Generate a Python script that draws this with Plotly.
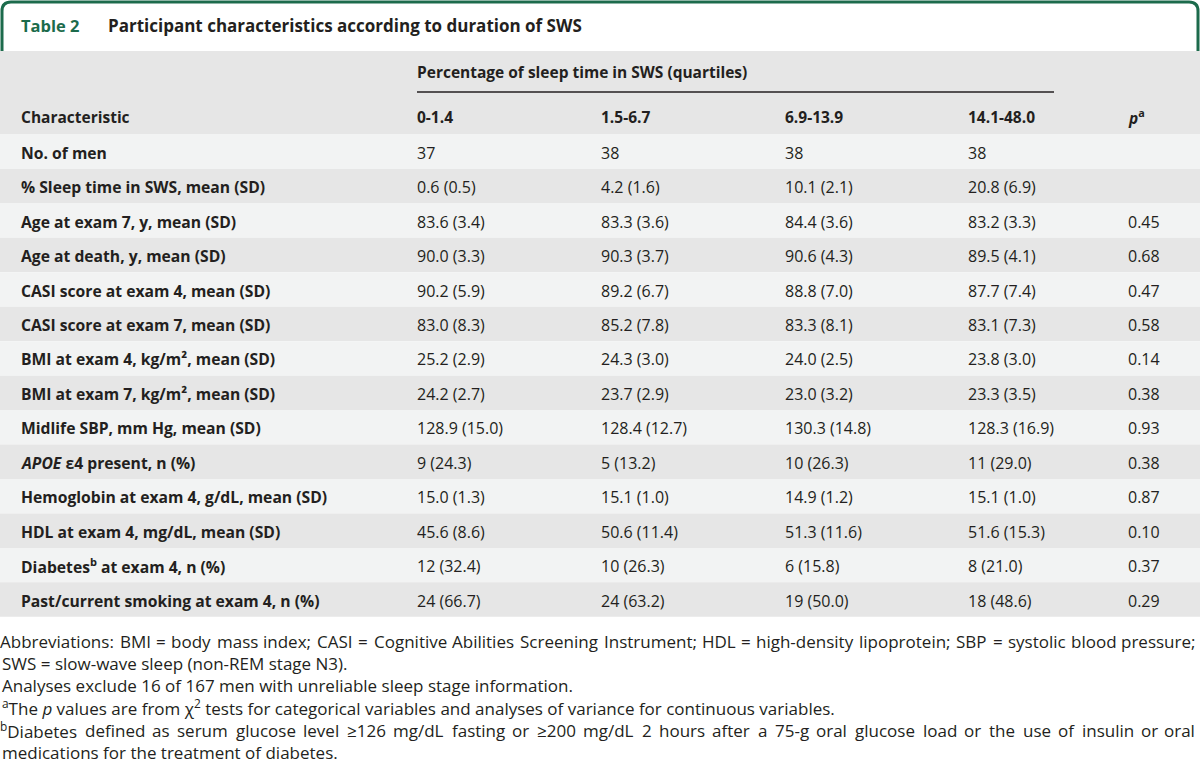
import re
import plotly.graph_objects as go

# ---------------- data ----------------
title_label = "Table 2"
title_text = "Participant characteristics according to duration of SWS"
group_header = "Percentage of sleep time in SWS (quartiles)"
col_headers = ["Characteristic", "0-1.4", "1.5-6.7", "6.9-13.9", "14.1-48.0", "<i>p</i><sup>a</sup>"]

characteristics = [
    "No. of men",
    "% Sleep time in SWS, mean (SD)",
    "Age at exam 7, y, mean (SD)",
    "Age at death, y, mean (SD)",
    "CASI score at exam 4, mean (SD)",
    "CASI score at exam 7, mean (SD)",
    "BMI at exam 4, kg/m², mean (SD)",
    "BMI at exam 7, kg/m², mean (SD)",
    "Midlife SBP, mm Hg, mean (SD)",
    "<i>APOE</i> ε4 present, n (%)",
    "Hemoglobin at exam 4, g/dL, mean (SD)",
    "HDL at exam 4, mg/dL, mean (SD)",
    "Diabetes<sup>b</sup> at exam 4, n (%)",
    "Past/current smoking at exam 4, n (%)",
]
q1_values = ["37", "0.6 (0.5)", "83.6 (3.4)", "90.0 (3.3)", "90.2 (5.9)", "83.0 (8.3)", "25.2 (2.9)",
             "24.2 (2.7)", "128.9 (15.0)", "9 (24.3)", "15.0 (1.3)", "45.6 (8.6)", "12 (32.4)", "24 (66.7)"]
q2_values = ["38", "4.2 (1.6)", "83.3 (3.6)", "90.3 (3.7)", "89.2 (6.7)", "85.2 (7.8)", "24.3 (3.0)",
             "23.7 (2.9)", "128.4 (12.7)", "5 (13.2)", "15.1 (1.0)", "50.6 (11.4)", "10 (26.3)", "24 (63.2)"]
q3_values = ["38", "10.1 (2.1)", "84.4 (3.6)", "90.6 (4.3)", "88.8 (7.0)", "83.3 (8.1)", "24.0 (2.5)",
             "23.0 (3.2)", "130.3 (14.8)", "10 (26.3)", "14.9 (1.2)", "51.3 (11.6)", "6 (15.8)", "19 (50.0)"]
q4_values = ["38", "20.8 (6.9)", "83.2 (3.3)", "89.5 (4.1)", "87.7 (7.4)", "83.1 (7.3)", "23.8 (3.0)",
             "23.3 (3.5)", "128.3 (16.9)", "11 (29.0)", "15.1 (1.0)", "51.6 (15.3)", "8 (21.0)", "18 (48.6)"]
p_values = ["", "", "0.45", "0.68", "0.47", "0.58", "0.14", "0.38", "0.93", "0.38", "0.87", "0.10", "0.37", "0.29"]

footnotes = [
    "Abbreviations: BMI = body mass index; CASI = Cognitive Abilities Screening Instrument; HDL = high-density lipoprotein; SBP = systolic blood pressure;",
    "SWS = slow-wave sleep (non-REM stage N3).",
    "Analyses exclude 16 of 167 men with unreliable sleep stage information.",
    "<sup>a</sup>The <i>p</i> values are from χ<sup>2</sup> tests for categorical variables and analyses of variance for continuous variables.",
    "<sup>b</sup>Diabetes defined as serum glucose level ≥126 mg/dL fasting or ≥200 mg/dL 2 hours after a 75-g oral glucose load or the use of insulin or oral",
    "medications for the treatment of diabetes.",
]
footnote_justified = [True, False, False, False, True, False]

# ---------------- layout constants ----------------
W, H = 1200, 764
GREEN = "#1c6b4c"
TEXT = "#231f20"
DARK_ROW = "#e6e6e6"
LIGHT_ROW = "#f2f3f3"
FONT = "'Open Sans', Roboto, Arial, sans-serif"

col_x = [19, 415, 599, 783, 966, 1126]
header_top, header_bottom = 51, 134.5
row_h = 34.45
foot_y0, foot_dy = 641, 22.3
foot_size = 17
foot_right = 1197

# approximate Open Sans advance widths (em) used only to justify footnote lines
_W = {' ': 0.26, 'a': 0.556, 'b': 0.613, 'c': 0.482, 'd': 0.613, 'e': 0.561, 'f': 0.339, 'g': 0.548,
      'h': 0.614, 'i': 0.253, 'j': 0.253, 'k': 0.525, 'l': 0.253, 'm': 0.93, 'n': 0.614, 'o': 0.604,
      'p': 0.613, 'q': 0.613, 'r': 0.408, 's': 0.477, 't': 0.353, 'u': 0.614, 'v': 0.5, 'w': 0.778,
      'x': 0.524, 'y': 0.502, 'z': 0.455, 'A': 0.633, 'B': 0.648, 'C': 0.631, 'D': 0.717, 'E': 0.556,
      'H': 0.738, 'I': 0.3, 'L': 0.529, 'M': 0.89, 'N': 0.761, 'P': 0.613, 'R': 0.634, 'S': 0.55,
      'W': 0.937, '.': 0.266, ',': 0.245, ';': 0.266, ':': 0.266, '=': 0.572, '-': 0.322, '/': 0.368,
      '≥': 0.572, '(': 0.297, ')': 0.297}


def text_width(s, size):
    w = 0.0
    for part in re.split(r"(<sup>.*?</sup>)", s):
        if part.startswith("<sup>"):
            inner = re.sub(r"<[^>]+>", "", part)
            w += sum(_W.get(c, 0.572) for c in inner) * 0.7
        else:
            inner = re.sub(r"<[^>]+>", "", part)
            w += sum(_W.get(c, 0.572) for c in inner)
    return w * size


fig = go.Figure()
shapes = []
annotations = []

# title border (rounded, open at bottom)
r = 9
shapes.append(dict(type="path",
                   path=f"M 2,{header_top} L 2,{2 + r} Q 2,2 {2 + r},2 L {W - 2 - r},2 Q {W - 2},2 {W - 2},{2 + r} L {W - 2},{header_top}",
                   line=dict(color=GREEN, width=3), xref="x", yref="y"))
annotations.append(dict(x=19, y=25, text=f"<b>{title_label}</b>", xanchor="left", yanchor="middle",
                        font=dict(family=FONT, size=16.5, color=GREEN)))
annotations.append(dict(x=106, y=25, text=f"<b>{title_text}</b>", xanchor="left", yanchor="middle",
                        font=dict(family=FONT, size=17, color=TEXT)))

# header band
shapes.append(dict(type="rect", x0=0, x1=W, y0=header_top, y1=header_bottom,
                   fillcolor=DARK_ROW, line=dict(width=0), layer="below"))
annotations.append(dict(x=col_x[1], y=72, text=f"<b>{group_header}</b>", xanchor="left", yanchor="middle",
                        font=dict(family=FONT, size=15.5, color=TEXT)))
shapes.append(dict(type="line", x0=417, x1=1054, y0=92, y1=92, line=dict(color=TEXT, width=1.5)))
for cx, h in zip(col_x, col_headers):
    annotations.append(dict(x=cx, y=117, text=f"<b>{h}</b>", xanchor="left", yanchor="middle",
                            font=dict(family=FONT, size=15.5, color=TEXT)))

# body rows
columns = [characteristics, q1_values, q2_values, q3_values, q4_values, p_values]
for i in range(len(characteristics)):
    y0 = header_bottom + i * row_h
    shapes.append(dict(type="rect", x0=0, x1=W, y0=y0, y1=y0 + row_h,
                       fillcolor=LIGHT_ROW if i % 2 == 0 else DARK_ROW, line=dict(width=0), layer="below"))
    yc = y0 + row_h / 2 + 1
    for j, (cx, col) in enumerate(zip(col_x, columns)):
        txt = col[i]
        if not txt:
            continue
        if j == 0:
            txt = f"<b>{txt}</b>"
            fs = 15.7
        else:
            fs = 16
        annotations.append(dict(x=cx, y=yc, text=txt, xanchor="left", yanchor="middle",
                                font=dict(family=FONT, size=fs, color=TEXT)))

# footnotes
for k, (f, just) in enumerate(zip(footnotes, footnote_justified)):
    yk = foot_y0 + k * foot_dy
    if not just:
        annotations.append(dict(x=0, y=yk, text=f, xanchor="left", yanchor="middle",
                                font=dict(family=FONT, size=foot_size, color=TEXT)))
        continue
    words = f.split(" ")
    widths = [text_width(wd, foot_size) for wd in words]
    gap = (foot_right - sum(widths)) / (len(words) - 1)
    x = 0.0
    for n, (wd, ww) in enumerate(zip(words, widths)):
        if n == len(words) - 1:
            annotations.append(dict(x=foot_right, y=yk, text=wd, xanchor="right", yanchor="middle",
                                    font=dict(family=FONT, size=foot_size, color=TEXT)))
        else:
            annotations.append(dict(x=x + ww / 2, y=yk, text=wd, xanchor="center", yanchor="middle",
                                    font=dict(family=FONT, size=foot_size, color=TEXT)))
        x += ww + gap

for a in annotations:
    a.update(xref="x", yref="y", showarrow=False)

fig.update_layout(
    width=W, height=H,
    margin=dict(l=0, r=0, t=0, b=0),
    paper_bgcolor="white", plot_bgcolor="white",
    xaxis=dict(range=[0, W], visible=False, fixedrange=True),
    yaxis=dict(range=[H, 0], visible=False, fixedrange=True),
    shapes=shapes, annotations=annotations,
    showlegend=False,
)
fig.write_html("out.html", config={"displayModeBar": False},
               post_script="document.body.style.margin='0';document.body.style.overflow='hidden';")
